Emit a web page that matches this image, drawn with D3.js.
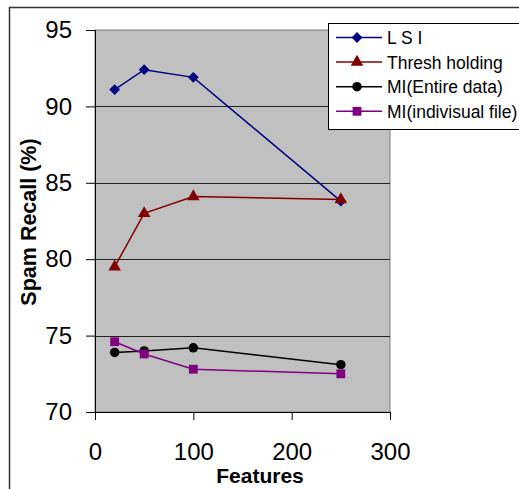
<!DOCTYPE html>
<html>
<head>
<meta charset="utf-8">
<script src="https://cdn.jsdelivr.net/npm/d3@7"></script>
<style>
body { margin: 0; background: #fff; }
text { font-family: "Liberation Sans", Arial, sans-serif; }
</style>
</head>
<body>
<svg id="chart" width="519" height="489"></svg>
<script>
var features = [20, 50, 100, 250]
var lsi = [91.1, 92.4, 91.9, 83.8]
var thresh = [79.5, 83.0, 84.1, 83.9]
var miEntire = [73.9, 74.0, 74.2, 73.1]
var miFile = [74.6, 73.8, 72.8, 72.5]
var seriesNames = ["L S I", "Thresh holding", "MI(Entire data)", "MI(indivisual file)"]
var xTicks = [0, 100, 200, 300]
var yTicks = [70, 75, 80, 85, 90, 95]

var series = [
  {name: seriesNames[0], values: lsi, color: "#000080", shape: d3.symbolSquare, size: 58, rot: 45},
  {name: seriesNames[1], values: thresh, color: "#800000", shape: d3.symbolTriangle, size: 68, rot: 0},
  {name: seriesNames[2], values: miEntire, color: "#000000", shape: d3.symbolCircle, size: 70, rot: 0},
  {name: seriesNames[3], values: miFile, color: "#800080", shape: d3.symbolSquare, size: 78, rot: 0}
]

var svg = d3.select("#chart")
var margin = {left: 95, top: 30, right: 129, bottom: 77}
var width = 519 - margin.left - margin.right
var height = 489 - margin.top - margin.bottom

// outer frame
svg.append("rect")
  .attr("x", 9.5).attr("y", 7.5)
  .attr("width", 530).attr("height", 500)
  .attr("fill", "none").attr("stroke", "#333").attr("stroke-width", 1.5)

var x = d3.scaleLinear().domain([0, 300]).range([0, width])
var y = d3.scaleLinear().domain([70, 95]).range([height, 0])

var main = svg.append("g")
  .attr("transform", "translate(" + margin.left + "," + margin.top + ")")

main.append("rect")
  .attr("width", width).attr("height", height)
  .attr("fill", "#c0c0c0").attr("stroke", "#808080")

// grid lines
main.selectAll(".grid")
  .data(yTicks.slice(1, -1))
  .enter().append("line")
  .attr("x1", 0).attr("x2", width)
  .attr("y1", function(d) { return Math.round(y(d)) + 0.5 })
  .attr("y2", function(d) { return Math.round(y(d)) + 0.5 })
  .attr("stroke", "#222").attr("stroke-width", 1)

// axes
var yAxis = d3.axisLeft(y).tickValues(yTicks).tickSize(9).tickPadding(14)
var gy = main.append("g").call(yAxis)
gy.select(".domain").attr("stroke", "#000")
gy.selectAll("text").attr("font-size", 24).attr("fill", "#000")

var xAxis = d3.axisBottom(x).tickValues(xTicks).tickSize(8).tickPadding(23)
var gx = main.append("g").attr("transform", "translate(0," + height + ")").call(xAxis)
gx.select(".domain").attr("stroke", "#000")
gx.selectAll("text").attr("font-size", 24).attr("fill", "#000")

// series
var line = d3.line()
  .x(function(d, i) { return x(features[i]) })
  .y(function(d) { return y(d) })

series.forEach(function(s) {
  main.append("path")
    .datum(s.values)
    .attr("d", line)
    .attr("fill", "none")
    .attr("stroke", s.color)
    .attr("stroke-width", 1.5)
  main.selectAll(null)
    .data(s.values)
    .enter().append("path")
    .attr("d", d3.symbol().type(s.shape).size(s.size))
    .attr("transform", function(d, i) { return "translate(" + x(features[i]) + "," + y(d) + ") rotate(" + s.rot + ")" })
    .attr("fill", s.color)
})

// axis titles
svg.append("text")
  .attr("x", 260).attr("y", 483)
  .attr("text-anchor", "middle")
  .attr("font-size", 21).attr("font-weight", "bold")
  .text("Features")

svg.append("text")
  .attr("transform", "translate(36,222) rotate(-90)")
  .attr("text-anchor", "middle")
  .attr("font-size", 21.5).attr("font-weight", "bold")
  .text("Spam Recall (%)")

// legend
var legend = svg.append("g")
legend.append("rect")
  .attr("x", 328.5).attr("y", 23.5)
  .attr("width", 200).attr("height", 106)
  .attr("fill", "#fff").attr("stroke", "#000")

series.forEach(function(s, i) {
  var ly = 37.5 + i * 24.6
  legend.append("line")
    .attr("x1", 336).attr("x2", 382)
    .attr("y1", ly).attr("y2", ly)
    .attr("stroke", s.color).attr("stroke-width", 1.5)
  legend.append("path")
    .attr("d", d3.symbol().type(s.shape).size(s.size))
    .attr("transform", "translate(357," + ly + ") rotate(" + s.rot + ")")
    .attr("fill", s.color)
  legend.append("text")
    .attr("x", 387).attr("y", ly + 6.5)
    .attr("font-size", 17.5)
    .text(s.name)
})
</script>
</body>
</html>
